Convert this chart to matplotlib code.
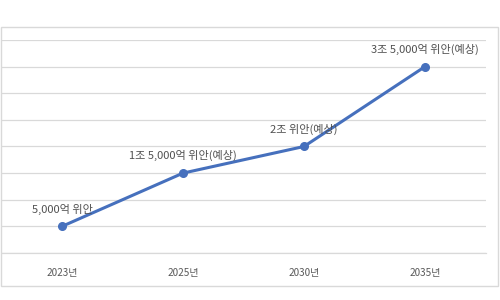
import matplotlib
matplotlib.use("Agg")
import matplotlib.pyplot as plt
from matplotlib.patches import Rectangle

plt.rcParams['font.family'] = ['Noto Sans CJK KR', 'DejaVu Sans']

years = ["2023년", "2025년", "2030년", "2035년"]
values = [5000, 15000, 20000, 35000]  # 억 위안
labels = ["5,000억 위안", "1조 5,000억 위안(예상)", "2조 위안(예상)", "3조 5,000억 위안(예상)"]

fig = plt.figure(figsize=(5, 3), dpi=100)
fig.patch.set_facecolor("white")
fig.patches.append(Rectangle((0.001, 0.047), 0.995, 0.863, transform=fig.transFigure,
                             fill=False, edgecolor="#D9D9D9", linewidth=1.0))

ax = fig.add_axes([0.003, 0.1567, 0.968, 0.71])
x = list(range(len(years)))
ax.plot(x, values, color="#4670BD", linewidth=2.2, marker="o", markersize=5.5, zorder=3)
for xi, v, lab in zip(x, values, labels):
    ax.annotate(lab, (xi, v), xytext=(0, 8.5), textcoords="offset points",
                ha="center", va="bottom", fontsize=8, color="#505050")

ax.set_xlim(-0.5, 3.5)
ax.set_ylim(0, 40000)
ax.set_yticks(range(0, 40001, 5000))
ax.set_yticklabels([])
ax.tick_params(axis="y", length=0)
ax.set_xticks(x)
ax.set_xticklabels(years, fontsize=7.2, color="#595959")
ax.tick_params(axis="x", length=0, pad=11)
ax.grid(axis="y", color="#D9D9D9", linewidth=0.9)
ax.set_axisbelow(True)
for s in ["top", "left", "right"]:
    ax.spines[s].set_visible(False)
ax.spines["bottom"].set_color("#D9D9D9")
ax.spines["bottom"].set_linewidth(0.9)

fig.savefig("out.png", dpi=100)
